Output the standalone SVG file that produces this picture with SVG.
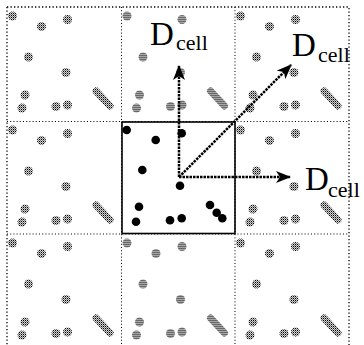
<svg xmlns="http://www.w3.org/2000/svg" width="364" height="345" viewBox="0 0 364 345">
<style>
.grid{fill:none;stroke:#000;stroke-width:1;stroke-dasharray:1 2.2}
.border{fill:none;stroke:#000;stroke-width:1.3;stroke-dasharray:1.3 2.2}
.gd{fill:url(#ht)}
.streak{fill:none;stroke:url(#ht);stroke-width:7;stroke-linecap:round}
.bd{fill:#000}
.sq{fill:none;stroke:#000;stroke-width:1.6}
.shaft{fill:none;stroke:#000;stroke-width:2.5;stroke-dasharray:2.5 1}
.big{font-family:"Liberation Serif","Times New Roman",serif;font-size:33px;fill:#000}
.sub{font-family:"Liberation Serif","Times New Roman",serif;font-size:22px;fill:#000}
</style>
<defs>
<pattern id="ht" width="2" height="2" patternUnits="userSpaceOnUse">
<rect width="2" height="2" fill="#d2d2d2"/>
<rect x="0" y="0" width="1" height="1" fill="#000"/>
<rect x="1" y="1" width="1" height="1" fill="#777"/>
</pattern>
<g id="dots">
<circle cx="5.5" cy="9" r="4.5"/>
<circle cx="34.5" cy="19.5" r="4.5"/>
<circle cx="60.5" cy="12.5" r="4.5"/>
<circle cx="21.5" cy="50" r="4.5"/>
<circle cx="59" cy="65.5" r="4.5"/>
<circle cx="18" cy="88" r="4.5"/>
<circle cx="15" cy="101" r="4.5"/>
<circle cx="49" cy="99.5" r="4.5"/>
<circle cx="60.5" cy="98" r="4.5"/>
<line class="streak" x1="89" y1="84" x2="103" y2="99"/>
</g>
<marker id="ah" viewBox="0 0 15 12" refX="14" refY="6" markerWidth="15" markerHeight="12" markerUnits="userSpaceOnUse" orient="auto">
<path d="M0,0 L15,6 L0,12 L4,6 Z" fill="#000"/>
</marker>
</defs>
<rect width="364" height="345" fill="#fff"/>
<g id="images" class="gd">
<use href="#dots" transform="translate(7,7)"/>
<use href="#dots" transform="translate(121.5,7)"/>
<use href="#dots" transform="translate(235,7)"/>
<use href="#dots" transform="translate(7,121)"/>
<use href="#dots" transform="translate(235,121)"/>
<use href="#dots" transform="translate(7,234)"/>
<use href="#dots" transform="translate(121.5,234)"/>
<use href="#dots" transform="translate(235,234)"/>
</g>
<g id="grid">
<path class="border" d="M7,7 H349 V345 M7,7 V345"/>
<path class="grid" d="M121.5,7 V345 M235,7 V345 M7,121.5 H349 M7,234 H349"/>
</g>
<g id="cell">
<rect class="sq" x="122" y="122" width="113" height="111.5"/>
<g class="bd">
<circle cx="126.7" cy="130" r="4.3"/>
<circle cx="155.7" cy="140" r="4.3"/>
<circle cx="181.7" cy="133.3" r="4.3"/>
<circle cx="142.3" cy="170" r="4.3"/>
<circle cx="180" cy="185.7" r="4.3"/>
<circle cx="139" cy="206.7" r="4.3"/>
<circle cx="136" cy="221.7" r="4.3"/>
<circle cx="170" cy="220.3" r="4.3"/>
<circle cx="181.7" cy="218.3" r="4.3"/>
<circle cx="210" cy="205" r="4.3"/>
<circle cx="216.7" cy="212.7" r="4.3"/>
<circle cx="222.3" cy="218.3" r="4.3"/>
</g>
</g>
<g id="connectors">
<line class="shaft" x1="179" y1="177" x2="179" y2="66" marker-end="url(#ah)"/>
<line class="shaft" x1="179" y1="177" x2="290" y2="177" marker-end="url(#ah)"/>
<line class="shaft" x1="179" y1="177" x2="291" y2="65" marker-end="url(#ah)"/>
</g>
<g id="labels">
<rect x="149" y="20" width="25" height="26" fill="#fff"/>
<text class="big" x="150" y="45">D</text><text class="sub" x="176" y="50">cell</text>
<text class="big" x="292" y="56">D</text><text class="sub" x="318" y="62">cell</text>
<text class="big" x="305" y="190">D</text><text class="sub" x="328" y="197">cell</text>
</g>
</svg>
